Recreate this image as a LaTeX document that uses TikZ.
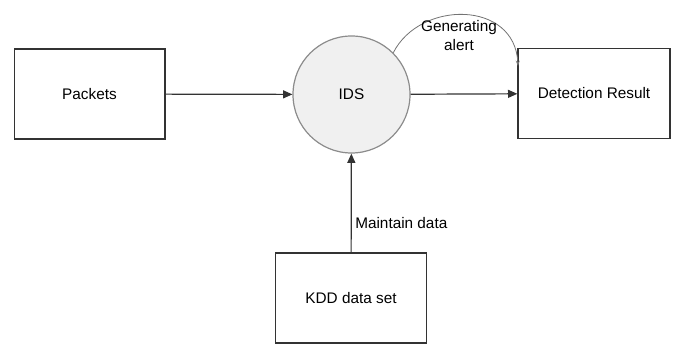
\documentclass[tikz,border=0pt]{standalone}
\usepackage{fontspec}
\setmainfont{Liberation Sans}
\usetikzlibrary{arrows.meta}

\begin{document}
\begin{tikzpicture}[x=0.75pt,y=0.75pt,
  every node/.style={font=\fontsize{11.5}{14.25}\selectfont},
  box/.style={draw=black!80,line width=1pt,minimum width=113pt,minimum height=67.5pt,inner sep=0pt},
  idsnode/.style={circle,draw=black!45,fill=black!6,line width=0.9pt,minimum size=87.75pt,inner sep=0pt},
  flow/.style={draw=black!80,line width=0.9pt,-{Triangle[length=7pt,width=6pt]}},
  alertarc/.style={draw=black!55,line width=0.6pt,-{Stealth[length=4pt,width=3pt]}}]
\useasboundingbox (0,0) rectangle (677,345);
\node[box] (packets) at (89.5,251) {Packets};
\node[idsnode] (ids) at (351.5,250.5) {IDS};
\node[box,minimum width=114pt] (result) at (594,251.5) {Detection Result};
\node[box] (kdd) at (351,47) {KDD data set};
\coordinate (alert) at (518,279);

\draw[flow] (packets) -- (ids);
\draw[flow] (ids) -- (result);
\draw[flow] (kdd) -- (ids);
\draw[alertarc] (ids.45) .. controls (420,345) and (515,345) .. (alert);

\node[align=center] (alertlbl) at (459,309) {Generating\\alert};
\node[anchor=west,inner sep=0pt] (maintlbl) at (355,122) {Maintain data};
\end{tikzpicture}
\end{document}
